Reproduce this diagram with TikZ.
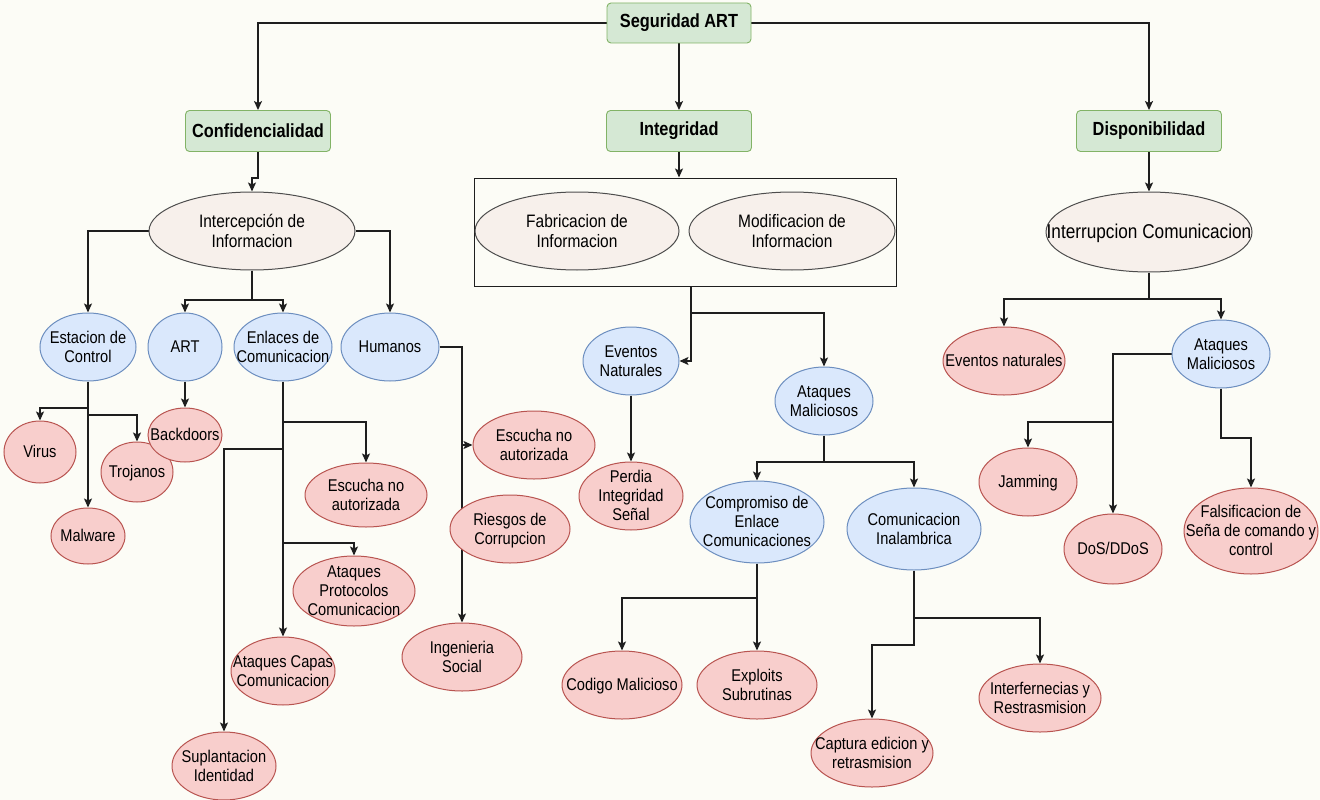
\documentclass[tikz,border=0pt]{standalone}
\usepackage{fontspec}
\setmainfont{Liberation Sans}[FakeStretch=0.86]
\usetikzlibrary{shapes.geometric,arrows.meta}
\pgfdeclarelayer{paper}
\pgfdeclarelayer{edges}
\pgfsetlayers{paper,edges,main}

\definecolor{paperc}{HTML}{FCFCF6}
\definecolor{gfill}{HTML}{D5E8D4}
\definecolor{gline}{HTML}{82B366}
\definecolor{bfill}{HTML}{DAE8FC}
\definecolor{bline}{HTML}{6C8EBF}
\definecolor{rfill}{HTML}{F8CECC}
\definecolor{rline}{HTML}{B85450}
\definecolor{cfill}{HTML}{F7F0EB}
\definecolor{cline}{HTML}{4D4D4D}
\definecolor{wire}{HTML}{1E1E1E}

% centred label that does not enlarge its ellipse
\newcommand\ctext[1]{\raisebox{-0.74em}{\smash{\makebox[0pt]{\begin{tabular}{@{}c@{}}#1\end{tabular}}}}}

\tikzset{
  topic/.style={rectangle, rounded corners=4pt, draw=gline, fill=gfill,
    line width=0.9pt, inner sep=0, minimum width=145, minimum height=41,
    font=\fontsize{19}{22}\selectfont\bfseries},
  ov/.style 2 args={ellipse, minimum width=#1, minimum height=#2,
    inner sep=0, line width=1pt},
  cnode/.style={draw=cline, fill=cfill, font=\fontsize{18}{20}\selectfont},
  bnode/.style={draw=bline, fill=bfill, font=\fontsize{17}{19}\selectfont},
  rnode/.style={draw=rline, fill=rfill, font=\fontsize{17}{19}\selectfont},
  arr/.style={draw=wire, line width=1.3pt,
    -{Stealth[length=9pt,width=8pt,inset=2pt]}},
  wireline/.style={draw=wire, line width=1.3pt}
}

\begin{document}
\begin{tikzpicture}[x=1pt,y=-1pt]
\useasboundingbox (0,0) rectangle (1320,800);
\begin{pgfonlayer}{paper}
  \fill[paperc] (0,0) rectangle (1320,800);
\end{pgfonlayer}

% top level
\node[topic, minimum width=144, minimum height=40] (root) at (679,23) {Seguridad ART};
\node[topic] (conf) at (258,131) {Confidencialidad};
\node[topic] (integ) at (679,131) {Integridad};
\node[topic] (disp) at (1149,131) {Disponibilidad};

% threat kinds
\node[ov={206}{78}, cnode] (icp) at (252,231) {\ctext{Intercepción de\\Informacion}};
\node[draw=wire, line width=1pt, minimum width=422, minimum height=108, inner sep=0] (frame) at (685,232) {};
\node[ov={204}{78}, cnode] (fab) at (577,231) {\ctext{Fabricacion de\\Informacion}};
\node[ov={206}{78}, cnode] (mod) at (792,231) {\ctext{Modificacion de\\Informacion}};
\node[ov={206}{80}, cnode, font=\fontsize{20}{22}\selectfont] (intr) at (1149,232) {\ctext{Interrupcion Comunicacion}};

% confidentiality branch
\node[ov={96}{68}, bnode] (est) at (88,347) {\ctext{Estacion de\\Control}};
\node[ov={74}{68}, bnode] (art) at (185,347) {\ctext{ART}};
\node[ov={98}{68}, bnode] (enl) at (283,347) {\ctext{Enlaces de\\Comunicacion}};
\node[ov={98}{68}, bnode] (hum) at (390,347) {\ctext{Humanos}};

\node[ov={72}{62}, rnode] (virus) at (40,452) {\ctext{Virus}};
\node[ov={72}{60}, rnode] (troj) at (137,472) {\ctext{Trojanos}};
\node[ov={74}{56}, rnode] (malw) at (88,536) {\ctext{Malware}};
\node[ov={74}{54}, rnode] (back) at (185,435) {\ctext{Backdoors}};
\node[ov={122}{64}, rnode] (esc1) at (366,495) {\ctext{Escucha no\\autorizada}};
\node[ov={122}{70}, rnode] (prot) at (354,591) {\ctext{Ataques\\Protocolos\\Comunicacion}};
\node[ov={104}{68}, rnode] (capas) at (283,671) {\ctext{Ataques Capas\\Comunicacion}};
\node[ov={104}{68}, rnode] (supl) at (224,766) {\ctext{Suplantacion\\Identidad}};
\node[ov={122}{68}, rnode] (esc2) at (534,445) {\ctext{Escucha no\\autorizada}};
\node[ov={120}{68}, rnode] (ries) at (510,529) {\ctext{Riesgos de\\Corrupcion}};
\node[ov={120}{68}, rnode] (ing) at (462,657) {\ctext{Ingenieria\\Social}};

% integrity branch
\node[ov={96}{68}, bnode] (evn) at (631,361) {\ctext{Eventos\\Naturales}};
\node[ov={104}{68}, rnode] (perd) at (631,496) {\ctext{Perdia\\Integridad\\Señal}};
\node[ov={98}{68}, bnode] (atm) at (824,401) {\ctext{Ataques\\Maliciosos}};
\node[ov={134}{82}, bnode] (comp) at (757,522) {\ctext{Compromiso de\\Enlace\\Comunicaciones}};
\node[ov={134}{82}, bnode] (inal) at (914,529) {\ctext{Comunicacion\\Inalambrica}};
\node[ov={120}{68}, rnode] (cod) at (622,685) {\ctext{Codigo Malicioso}};
\node[ov={120}{68}, rnode] (expl) at (757,685) {\ctext{Exploits\\Subrutinas}};
\node[ov={122}{68}, rnode] (capt) at (872,753) {\ctext{Captura edicion y\\retrasmision}};
\node[ov={122}{68}, rnode] (interf) at (1040,698) {\ctext{Interfernecias y\\Restrasmision}};

% availability branch
\node[ov={122}{68}, rnode] (evn2) at (1004,361) {\ctext{Eventos naturales}};
\node[ov={98}{68}, bnode] (atm2) at (1221,354) {\ctext{Ataques\\Maliciosos}};
\node[ov={98}{68}, rnode] (jam) at (1028,482) {\ctext{Jamming}};
\node[ov={98}{70}, rnode] (dos) at (1113,549) {\ctext{DoS/DDoS}};
\node[ov={134}{86}, rnode] (fals) at (1251,531) {\ctext{Falsificacion de\\Seña de comando y\\control}};

% junction points of the orthogonal connectors
\coordinate (jc) at (252,178);
\coordinate (ji) at (252,300);
\coordinate (je1) at (88,408);
\coordinate (je2) at (88,415);
\coordinate (jn1) at (283,422);
\coordinate (jn2) at (283,449);
\coordinate (jn3) at (283,543);
\coordinate (jh) at (462,445);
\coordinate (jf0) at (691,286);
\coordinate (jf1) at (691,313);
\coordinate (ja) at (824,462);
\coordinate (jcm) at (757,598);
\coordinate (jw1) at (914,618);
\coordinate (jw2) at (914,645);
\coordinate (jr) at (1149,299);
\coordinate (jm1) at (1113,422);
\coordinate (jm2) at (1221,438);

\begin{pgfonlayer}{edges}
  % root
  \draw[arr] (root.west) -| (conf.north);
  \draw[arr] (root.east) -| (disp.north);
  \draw[arr] (root.south) -- (integ.north);
  \draw[arr] (conf.south) |- (jc) -- (icp.north);
  \draw[arr] (integ.south) -- (integ.south |- frame.north);
  \draw[arr] (disp.south) -- (intr.north);

  % interception
  \draw[arr] (icp.west) -| (est.north);
  \draw[arr] (icp.east) -| (hum.north);
  \draw[wireline] (icp.south) -- (ji);
  \draw[arr] (ji) -| (art.north);
  \draw[arr] (ji) -| (enl.north);

  \draw[arr] (est.south) -- (malw.north);
  \draw[arr] (je1) -| (virus.north);
  \draw[arr] (je2) -| (troj.north);
  \draw[arr] (art.south) -- (back.north);

  \draw[arr] (enl.south) -- (capas.north);
  \draw[arr] (jn1) -| (esc1.north);
  \draw[arr] (jn2) -| (supl.north);
  \draw[arr] (jn3) -| (prot.north);

  \draw[arr] (hum.east) -| (ing.north);
  \draw[arr] (jh) -- (esc2.west);

  % fabrication / modification
  \draw[arr] (jf0) |- (evn.east);
  \draw[arr] (jf1) -| (atm.north);
  \draw[arr] (evn.south) -- (perd.north);
  \draw[wireline] (atm.south) -- (ja);
  \draw[arr] (ja) -| (comp.north);
  \draw[arr] (ja) -| (inal.north);
  \draw[arr] (comp.south) -- (expl.north);
  \draw[arr] (jcm) -| (cod.north);
  \draw[arr] (inal.south) -- (jw2) -| (capt.north);
  \draw[arr] (jw1) -| (interf.north);

  % interruption
  \draw[wireline] (intr.south) -- (jr);
  \draw[arr] (jr) -| (evn2.north);
  \draw[arr] (jr) -| (atm2.north);
  \draw[arr] (atm2.west) -| (dos.north);
  \draw[arr] (jm1) -| (jam.north);
  \draw[arr] (atm2.south) -- (jm2) -| (fals.north);
\end{pgfonlayer}
\end{tikzpicture}
\end{document}
